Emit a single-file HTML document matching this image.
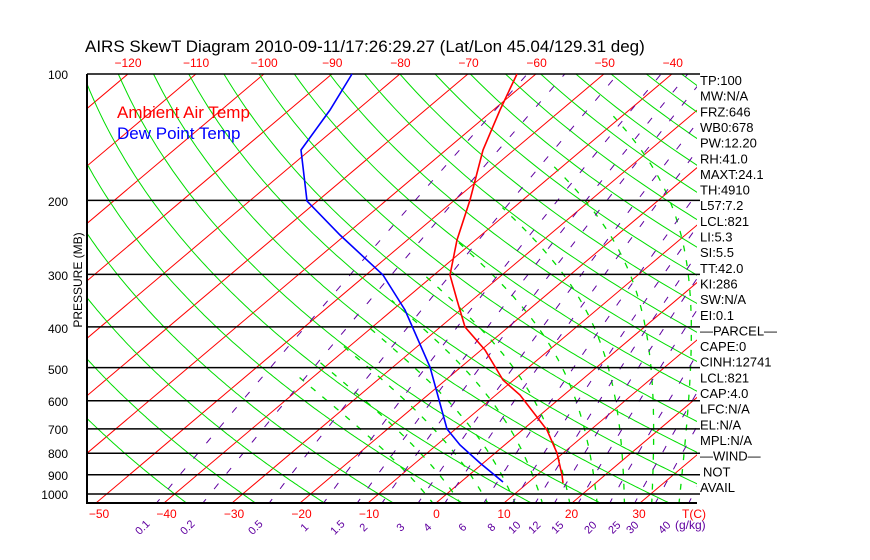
<!DOCTYPE html>
<html><head><meta charset="utf-8"><style>
html,body{margin:0;padding:0;background:#fff;width:870px;height:560px;overflow:hidden}
svg{display:block;font-family:"Liberation Sans",sans-serif}
</style></head><body>
<svg id="s" width="870" height="560" xmlns="http://www.w3.org/2000/svg">
<defs><clipPath id="c"><rect x="87" y="74" width="610" height="429"/></clipPath></defs>
<g id="g" clip-path="url(#c)"></g>
<g id="t"></g>
</svg>
<script>
(function(){
var NS="http://www.w3.org/2000/svg",g=document.getElementById('g'),t=document.getElementById('t');
function Y(p){return 74+420*Math.log10(p/100);}
function X(T,y){return 436+6.8*T+1.184*(503-y);}
function pl(pts,col,w,dash,par){var e=document.createElementNS(NS,'polyline');e.setAttribute('points',pts.map(function(a){return a[0].toFixed(1)+','+a[1].toFixed(1)}).join(' '));e.setAttribute('fill','none');e.setAttribute('stroke',col);e.setAttribute('stroke-width',w);if(dash)e.setAttribute('stroke-dasharray',dash);(par||g).appendChild(e);}
function tx(x,y,s,col,sz,anc,rot){var e=document.createElementNS(NS,'text');e.setAttribute('x',x);e.setAttribute('y',y);e.setAttribute('fill',col);e.setAttribute('font-size',sz);if(anc)e.setAttribute('text-anchor',anc);if(rot)e.setAttribute('transform','rotate('+rot+' '+x+' '+y+')');e.textContent=String(s);t.appendChild(e);}
var ps=[];for(var p=1060;p>=95;p-=5)ps.push(p);
for(var T=-180;T<=50;T+=10){pl([[X(T,503),503],[X(T,74),74]],'#f00',1);}
for(var th=-40;th<=240;th+=10){var pts=ps.map(function(p){var TK=(th+273.15)*Math.pow(p/1000,0.286);var y=Y(p);return [X(TK-273.15,y),y];});pl(pts,'#0d0',1);}
function es(T){return 6.112*Math.exp(17.67*T/(T+243.5));}
for(var tw=0;tw<=44;tw+=4){var TK=tw+273.15,pts=[];for(var p=1060;p>=95;p-=2){var Tc=TK-273.15;if(Tc<-42)break;var y=Y(p);pts.push([X(Tc,y),y]);var rs=0.622*es(Tc)/(p-es(Tc));var d=(1/p)*(287*TK+2.5e6*rs)/(1004+2.5e6*2.5e6*rs*0.622/(287*TK*TK));TK-=d*2;}
 pl(pts,'#0d0',1.3,'6,9');}
var ws=[0.1,0.2,0.5,1,1.5,2,3,4,6,8,10,12,15,20,25,30,40];
ws.forEach(function(w){var pts=[];for(var p=1060;p>=100;p-=10){var e=w*p/(622+w);var l=Math.log(e/6.112);var Td=243.5*l/(17.67-l);var y=Y(p);pts.push([X(Td,y),y]);}pl(pts,'#6000a0',1,'7,13');});
[100,200,300,400,500,600,700,800,900,1000].forEach(function(p){var y=Y(p);pl([[87,y],[700,y]],'#000',1.5,null,t);});
pl([[87,74],[87,503],[697,503]],'#000',2,null,t);
pl([[517,74],[500,110],[483,150],[470,200],[457,240],[450,275],[457,300],[465,327],[485,350],[503,380],[520,395],[547,430],[557,453],[562,475],[563,483]],'#f00',1.6,null,t);
pl([[352,74],[330,110],[301,150],[307,201],[340,235],[383,275],[405,310],[430,367],[447,429],[460,445],[480,463],[503,482]],'#00f',1.6,null,t);
tx(85,52,'AIRS SkewT Diagram 2010-09-11/17:26:29.27 (Lat/Lon 45.04/129.31 deg)','#000',17);
var tl=[-120,-110,-100,-90,-80,-70,-60,-50,-40];tl.forEach(function(v,i){tx(128+68.1*i,67,String(v).replace('-','\u2212'),'#f00',12,'middle');});
var bl=[-50,-40,-30,-20,-10,0,10,20,30];bl.forEach(function(v,i){tx(99+67.5*i,518,String(v).replace('-','\u2212'),'#f00',12,'middle');});
tx(694,518,'T(C)','#f00',12,'middle');
var wl=[[145,'0.1'],[190,'0.2'],[258,'0.5'],[307,'1'],[340,'1.5'],[366,'2'],[403,'3'],[430,'4'],[465,'6'],[494,'8'],[517,'10'],[537,'12'],[560,'15'],[593,'20'],[617,'25'],[635,'30'],[667,'40']];
wl.forEach(function(a){tx(a[0],530,a[1],'#6000a0',11,'middle',-45);});
tx(675,529,'(g/kg)','#6000a0',12);
[[100,74],[200,201],[300,275],[400,328],[500,369],[600,401],[700,429],[800,453],[900,475],[1000,494]].forEach(function(a){tx(68,a[1]+5,a[0],'#000',12,'end');});
tx(82,280,'PRESSURE (MB)','#000',12,'middle',-90);
tx(117,118,'Ambient Air Temp','#f00',17);
tx(117,139,'Dew Point Temp','#00f',17);
var R=['TP:100','MW:N/A','FRZ:646','WB0:678','PW:12.20','RH:41.0','MAXT:24.1','TH:4910','L57:7.2','LCL:821','LI:5.3','SI:5.5','TT:42.0','KI:286','SW:N/A','EI:0.1','\u2014PARCEL\u2014','CAPE:0','CINH:12741','LCL:821','CAP:4.0','LFC:N/A','EL:N/A','MPL:N/A','\u2014WIND\u2014','NOT','AVAIL'];
R.forEach(function(s,i){tx(i==25?703:700,85+15.65*i,s,'#000',13);});
})();
</script>
</body></html>
